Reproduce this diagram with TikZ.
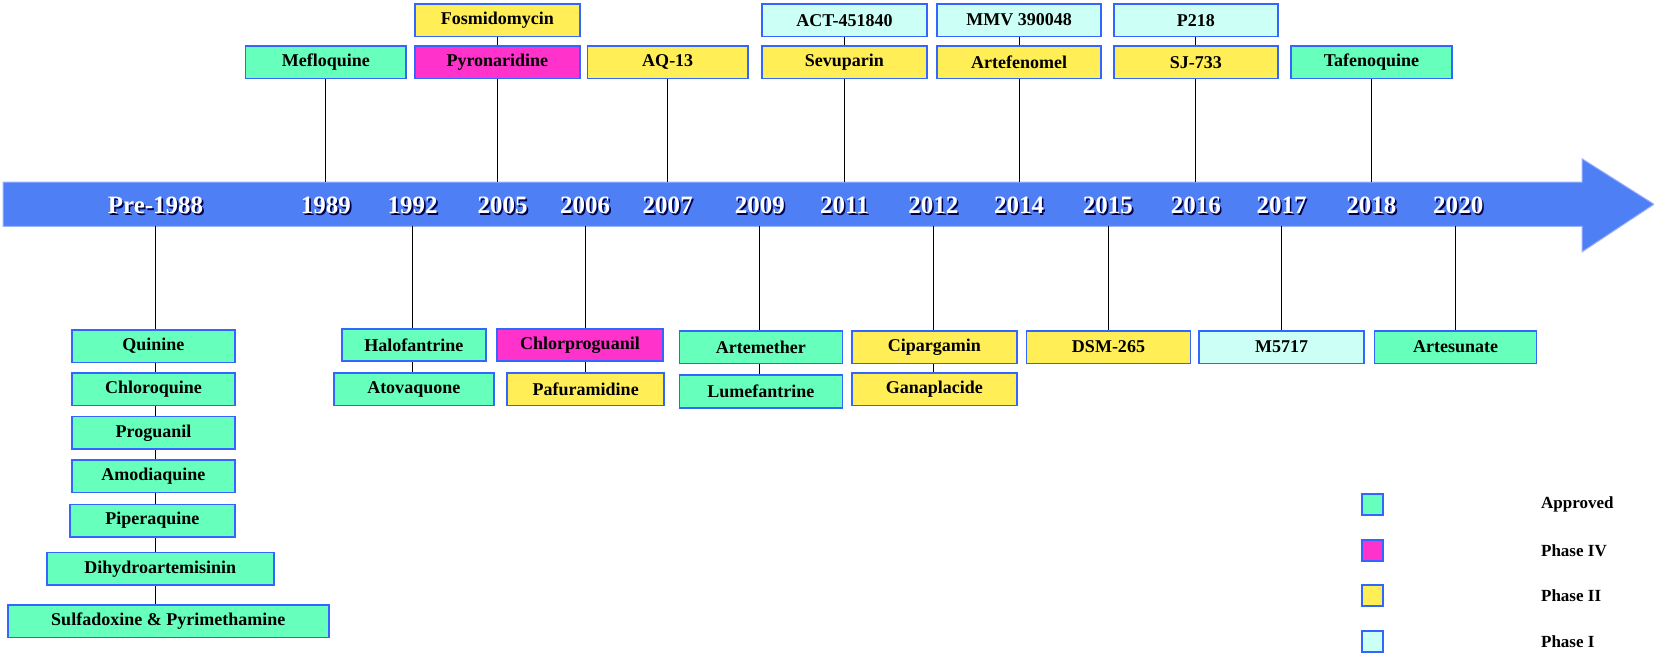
\documentclass[tikz,border=0pt]{standalone}
\usepackage{fontspec}
\setmainfont{Liberation Serif}
\begin{document}
\begin{tikzpicture}[x=1.058pt,y=-1.058pt,
  bx/.style={draw=bbl,line width=1.6pt,minimum height=32.5pt,inner sep=0pt,font=\bfseries\fontsize{18}{18}\selectfont},
  ap/.style={bx,fill=cgr},p4/.style={bx,fill=cmg},p2/.style={bx,fill=cye},p1/.style={bx,fill=clt},
  yr/.style={text=white,font=\bfseries\fontsize{25}{25}\selectfont},
  ln/.style={draw=black,line width=0.9pt},
  lg/.style={draw=bbl,line width=1.6pt,minimum size=21pt,inner sep=0pt},
  lt/.style={anchor=west,font=\bfseries\fontsize{17}{17}\selectfont}]
\definecolor{bbl}{HTML}{3366FF}
\definecolor{cgr}{HTML}{66FFBB}
\definecolor{cmg}{HTML}{FF33CC}
\definecolor{cye}{HTML}{FFEE55}
\definecolor{clt}{HTML}{CCFFF5}
\definecolor{arr}{HTML}{4F7FF5}
\useasboundingbox (0,0) rectangle (1563,617);
\draw[fill=arr,draw=bbl!50!white,line width=1pt] (3,172) -- (1495,172) -- (1495,150) -- (1563,193) -- (1495,238) -- (1495,214) -- (3,214) -- cycle;
\foreach \x/\t/\n in {147/Pre-1988/ypre,308/1989/y89,390/1992/y92,475/2005/y05,553/2006/y06,631/2007/y07,718/2009/y09,798/2011/y11,882/2012/y12,963/2014/y14,1047/2015/y15,1130/2016/y16,1211/2017/y17,1296/2018/y18,1378/2020/y20}{
  \node[yr,text=black!70!blue] at (\x+1.5,195.5) {\t};
  \node[yr] (\n) at (\x,194) {\t};}
\coordinate (ta1) at (308,172); \coordinate (ta2) at (470,172); \coordinate (ta3) at (631,172);
\coordinate (ta4) at (798,172); \coordinate (ta5) at (963,172); \coordinate (ta6) at (1130,172);
\coordinate (ta7) at (1296,172);
\coordinate (ba1) at (147,214); \coordinate (ba2) at (390,214); \coordinate (ba3) at (553,214);
\coordinate (ba4) at (718,214); \coordinate (ba5) at (882,214); \coordinate (ba6) at (1047.5,214);
\coordinate (ba7) at (1211,214); \coordinate (ba8) at (1375.5,214);
% top
\node[ap,minimum width=160.5pt] (mef) at (308,59) {Mefloquine};
\node[p2,minimum width=165pt] (fos) at (470,19) {Fosmidomycin};
\node[p4,minimum width=165pt] (pyr) at (470,59) {Pyronaridine};
\node[p2,minimum width=160.5pt] (aq) at (631,59) {AQ-13};
\node[p1,minimum width=165pt] (act) at (798,19) {ACT-451840};
\node[p2,minimum width=165pt] (sev) at (798,59) {Sevuparin};
\node[p1,minimum width=164pt] (mmv) at (963,19) {MMV 390048};
\node[p2,minimum width=164pt] (art) at (963,59) {Artefenomel};
\node[p1,minimum width=164pt] (p218) at (1130,19) {P218};
\node[p2,minimum width=164pt] (sj) at (1130,59) {SJ-733};
\node[ap,minimum width=160.5pt] (taf) at (1296,59) {Tafenoquine};
\foreach \b/\a in {mef/ta1,pyr/ta2,aq/ta3,sev/ta4,art/ta5,sj/ta6,taf/ta7}{\draw[ln] (\b.south) -- (\a);}
\foreach \b/\a in {fos/pyr,act/sev,mmv/art,p218/sj}{\draw[ln] (\b.south) -- (\a.north);}
% bottom
\draw[ln] (ba1) -- (147,571);
\draw[ln] (ba2) -- (390,352);
\draw[ln] (ba3) -- (553,352);
\draw[ln] (ba4) -- (718,354);
\draw[ln] (ba5) -- (882,352);
\node[ap,minimum width=163pt] (qui) at (145,327) {Quinine};
\node[ap,minimum width=163pt] (chl) at (145,368) {Chloroquine};
\node[ap,minimum width=163pt] (pro) at (145,409) {Proguanil};
\node[ap,minimum width=163pt] (amo) at (145,450) {Amodiaquine};
\node[ap,minimum width=165pt] (pip) at (144,492) {Piperaquine};
\node[ap,minimum width=227pt] (dih) at (151.5,537.5) {Dihydroartemisinin};
\node[ap,minimum width=321pt] (sul) at (159,587) {Sulfadoxine \& Pyrimethamine};
\node[ap,minimum width=144pt] (hal) at (391,326) {Halofantrine};
\node[ap,minimum width=160pt] (ato) at (391,368) {Atovaquone};
\node[p4,minimum width=166pt] (chp) at (548,326) {Chlorproguanil};
\node[p2,minimum width=157pt] (paf) at (553.5,368) {Pafuramidine};
\node[ap,minimum width=163pt] (atm) at (719,328) {Artemether};
\node[ap,minimum width=163pt] (lum) at (719,370) {Lumefantrine};
\node[p2,minimum width=165pt] (cip) at (883,328) {Cipargamin};
\node[p2,minimum width=165pt] (gan) at (883,368) {Ganaplacide};
\node[p2,minimum width=164pt] (dsm) at (1047.5,328) {DSM-265};
\node[p1,minimum width=165pt] (m57) at (1211,328) {M5717};
\node[ap,minimum width=162pt] (ats) at (1375.5,328) {Artesunate};
\draw[ln] (ba6) -- (dsm.north);
\draw[ln] (ba7) -- (m57.north);
\draw[ln] (ba8) -- (ats.north);
% legend
\node[lg,fill=cgr] (l1) at (1297,477) {}; \node[lt] (t1) at (1453,477) {Approved};
\node[lg,fill=cmg] (l2) at (1297,520) {}; \node[lt] (t2) at (1453,520) {Phase IV};
\node[lg,fill=cye] (l3) at (1297,563) {}; \node[lt] (t3) at (1453,563) {Phase II};
\node[lg,fill=clt] (l4) at (1297,606) {}; \node[lt] (t4) at (1453,606) {Phase I};
\end{tikzpicture}
\end{document}
